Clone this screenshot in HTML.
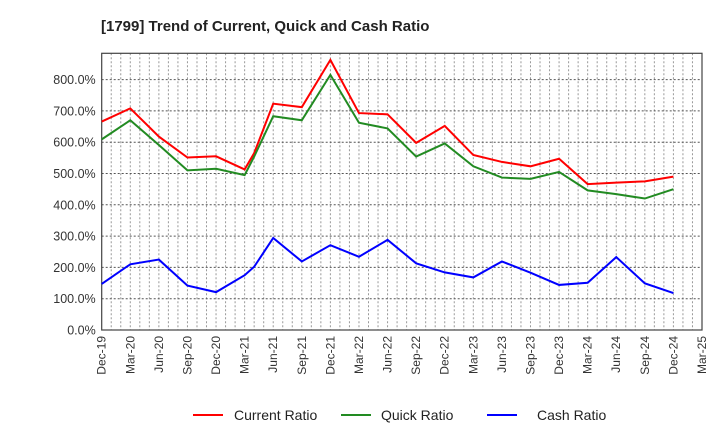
<!DOCTYPE html>
<html><head><meta charset="utf-8"><style>
body{margin:0;background:#fff;font-family:"Liberation Sans",sans-serif;}
</style></head><body>
<svg id="chart" width="720" height="440" xmlns="http://www.w3.org/2000/svg" font-family="Liberation Sans, sans-serif">
<text x="101" y="31" font-size="15" font-weight="bold" fill="#222">[1799]  Trend of Current, Quick and Cash Ratio</text>
<g id="grid"></g><g id="axes"></g><g id="series"></g>
<g font-size="14" fill="#222">
<line x1="193" y1="415" x2="223" y2="415" stroke="#f00" stroke-width="2"/><text x="234" y="420">Current Ratio</text>
<line x1="341" y1="415" x2="371" y2="415" stroke="#228b22" stroke-width="2"/><text x="381" y="420">Quick Ratio</text>
<line x1="487" y1="415" x2="517" y2="415" stroke="#00f" stroke-width="2"/><text x="537" y="420">Cash Ratio</text>
</g>
</svg>
<script>
const xLabels=["Dec-19","Mar-20","Jun-20","Sep-20","Dec-20","Mar-21","Jun-21","Sep-21","Dec-21","Mar-22","Jun-22","Sep-22","Dec-22","Mar-23","Jun-23","Sep-23","Dec-23","Mar-24","Jun-24","Sep-24","Dec-24","Mar-25"];
const yTicks=[0,100,200,300,400,500,600,700,800];
const months=[0,3,6,9,12,15,16,18,21,24,27,30,33,36,39,42,45,48,51,54,57,60];
const current=[666,708,618,551,555,513,565,723,712,863,693,689,598,652,559,537,523,547,466,471,475,490];
const quick=[609,670,591,510,515,495,554,683,670,815,662,644,554,596,523,487,483,505,446,434,420,450];
const cash=[147,210,225,142,121,175,202,294,219,271,234,288,213,184,168,219,183,144,151,233,149,118];
const L=101.7,R=702,T=53.3,B=330,YMAX=884,NM=63;
const sx=m=>L+(R-L)*m/NM, sy=v=>B-(B-T)*v/YMAX;
const NS="http://www.w3.org/2000/svg";
function mk(tag,attrs,parent){const e=document.createElementNS(NS,tag);for(const k in attrs)e.setAttribute(k,attrs[k]);parent.appendChild(e);return e;}
const grid=document.getElementById('grid'),axes=document.getElementById('axes'),ser=document.getElementById('series');
for(let m=1;m<NM;m++){const l=mk('line',{x1:sx(m),x2:sx(m),y1:T,y2:B,stroke:'#999','stroke-width':1,'stroke-dasharray':'2,2'},grid);

}
yTicks.forEach(v=>{if(v>0){const l=mk('line',{x1:L,x2:R,y1:sy(v),y2:sy(v),stroke:'#555','stroke-width':1,'stroke-dasharray':'2,2'},grid);

}
const t=mk('text',{x:L-6,y:sy(v)+4.5,'text-anchor':'end','font-size':12.5,fill:'#333'},axes);t.textContent=v.toFixed(1)+'%';

});
xLabels.forEach((s,i)=>{const x=sx(i*3);const t=mk('text',{x:0,y:0,transform:`translate(${x+4},${B+6}) rotate(-90)`,'text-anchor':'end','font-size':12,fill:'#333'},axes);t.textContent=s;

});
const fr=mk('rect',{x:L,y:T,width:R-L,height:B-T,fill:'none',stroke:'#444','stroke-width':1.2},axes);


[[current,'#f00','current-ratio-line'],[quick,'#228b22','quick-ratio-line'],[cash,'#00f','cash-ratio-line']].forEach(([d,c,n])=>{
const p=mk('polyline',{points:d.map((v,i)=>sx(months[i])+','+sy(v)).join(' '),fill:'none',stroke:c,'stroke-width':2},ser);

});
</script>
</body></html>
